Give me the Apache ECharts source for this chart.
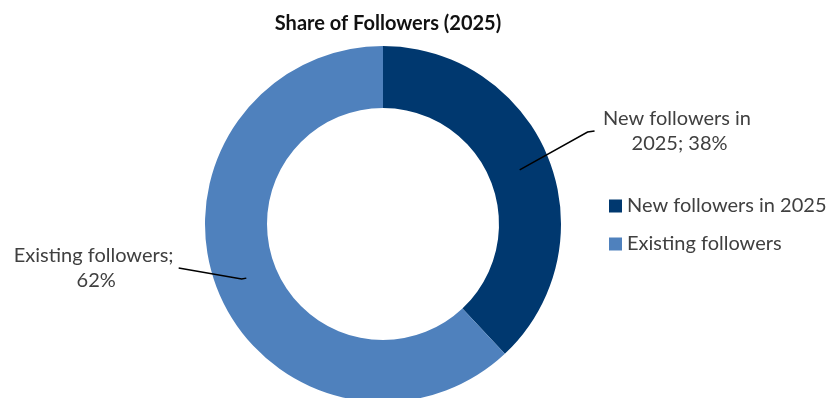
<!DOCTYPE html>
<html>
<head>
<meta charset="utf-8">
<script src="https://cdn.jsdelivr.net/npm/echarts@6/dist/echarts.min.js"></script>
<style>
html,body{margin:0;padding:0;background:#fff;}
#chart{width:826px;height:398px;}
</style>
</head>
<body>
<div id="chart"></div>
<script>
const titleText = 'Share of Followers (2025)';
const categories = ['New followers in 2025', 'Existing followers'];
const values = [38, 62];
const colors = ['#00386F', '#4F81BD'];

const FONT = 'Lato';
const TEXT_COLOR = '#404040';
const LABEL_SHIFT = -12;

const chart = echarts.init(document.getElementById('chart'), null, {renderer: 'canvas'});

const seriesData = categories.map((name, i) => ({name: name, value: values[i], itemStyle: {color: colors[i]}}));
const labelLens = [[73, 7], [5, 63]];
const helperData = categories.map((name, i) => ({
  name: name, value: values[i],
  labelLine: {length: labelLens[i][0], length2: labelLens[i][1]}
}));

chart.setOption({
  animation: false,
  backgroundColor: '#ffffff',
  title: {
    text: titleText,
    left: 383,
    textAlign: 'center',
    top: 8,
    textStyle: {fontFamily: FONT, fontWeight: 'bold', fontSize: 20, color: '#111111', lineHeight: 22}
  },
  legend: {
    orient: 'vertical',
    left: 604,
    top: 191,
    icon: 'rect',
    itemWidth: 13,
    itemHeight: 13,
    itemGap: 18,
    data: categories,
    selectedMode: false,
    textStyle: {fontFamily: FONT, fontSize: 20, color: TEXT_COLOR, lineHeight: 20}
  },
  series: [
    {
      type: 'pie',
      name: 'main',
      z: 1,
      center: [383, 224],
      radius: [116, 178],
      startAngle: 90,
      clockwise: true,
      silent: true,
      avoidLabelOverlap: false,
      label: {show: false},
      labelLine: {show: false},
      data: seriesData
    },
    {
      type: 'pie',
      name: 'labels',
      z: 5,
      center: [383, 224],
      radius: [0, 147],
      startAngle: 90,
      clockwise: true,
      silent: true,
      avoidLabelOverlap: false,
      itemStyle: {color: 'rgba(0,0,0,0)'},
      emphasis: {disabled: true},
      label: {
        show: true,
        position: 'outside',
        formatter: p => p.name + '; ' + p.percent + '%',
        width: 164,
        overflow: 'break',
        fontFamily: FONT,
        fontSize: 20,
        lineHeight: 25,
        color: TEXT_COLOR,
        distanceToLabelLine: 3
      },
      labelLine: {
        show: true,
        lineStyle: {color: '#000000', width: 1.5}
      },
      labelLayout: function (p) {
        const pts = p.labelLinePoints;
        if (!pts) return {};
        const dy = LABEL_SHIFT;
        const d1 = Math.hypot(pts[1][0] - pts[0][0], pts[1][1] - pts[0][1]);
        const d2 = d1 + Math.hypot(pts[2][0] - pts[1][0], pts[2][1] - pts[1][1]);
        const k = d2 > 0 ? d1 / d2 : 0;
        const half = p.labelRect.width / 2;
        return {
          dy: dy,
          dx: p.align === 'right' ? -half : half,
          align: 'center',
          labelLinePoints: [pts[0], [pts[1][0], pts[1][1] + dy * k], [pts[2][0], pts[2][1] + dy]]
        };
      },
      data: helperData
    }
  ]
});
</script>
</body>
</html>
